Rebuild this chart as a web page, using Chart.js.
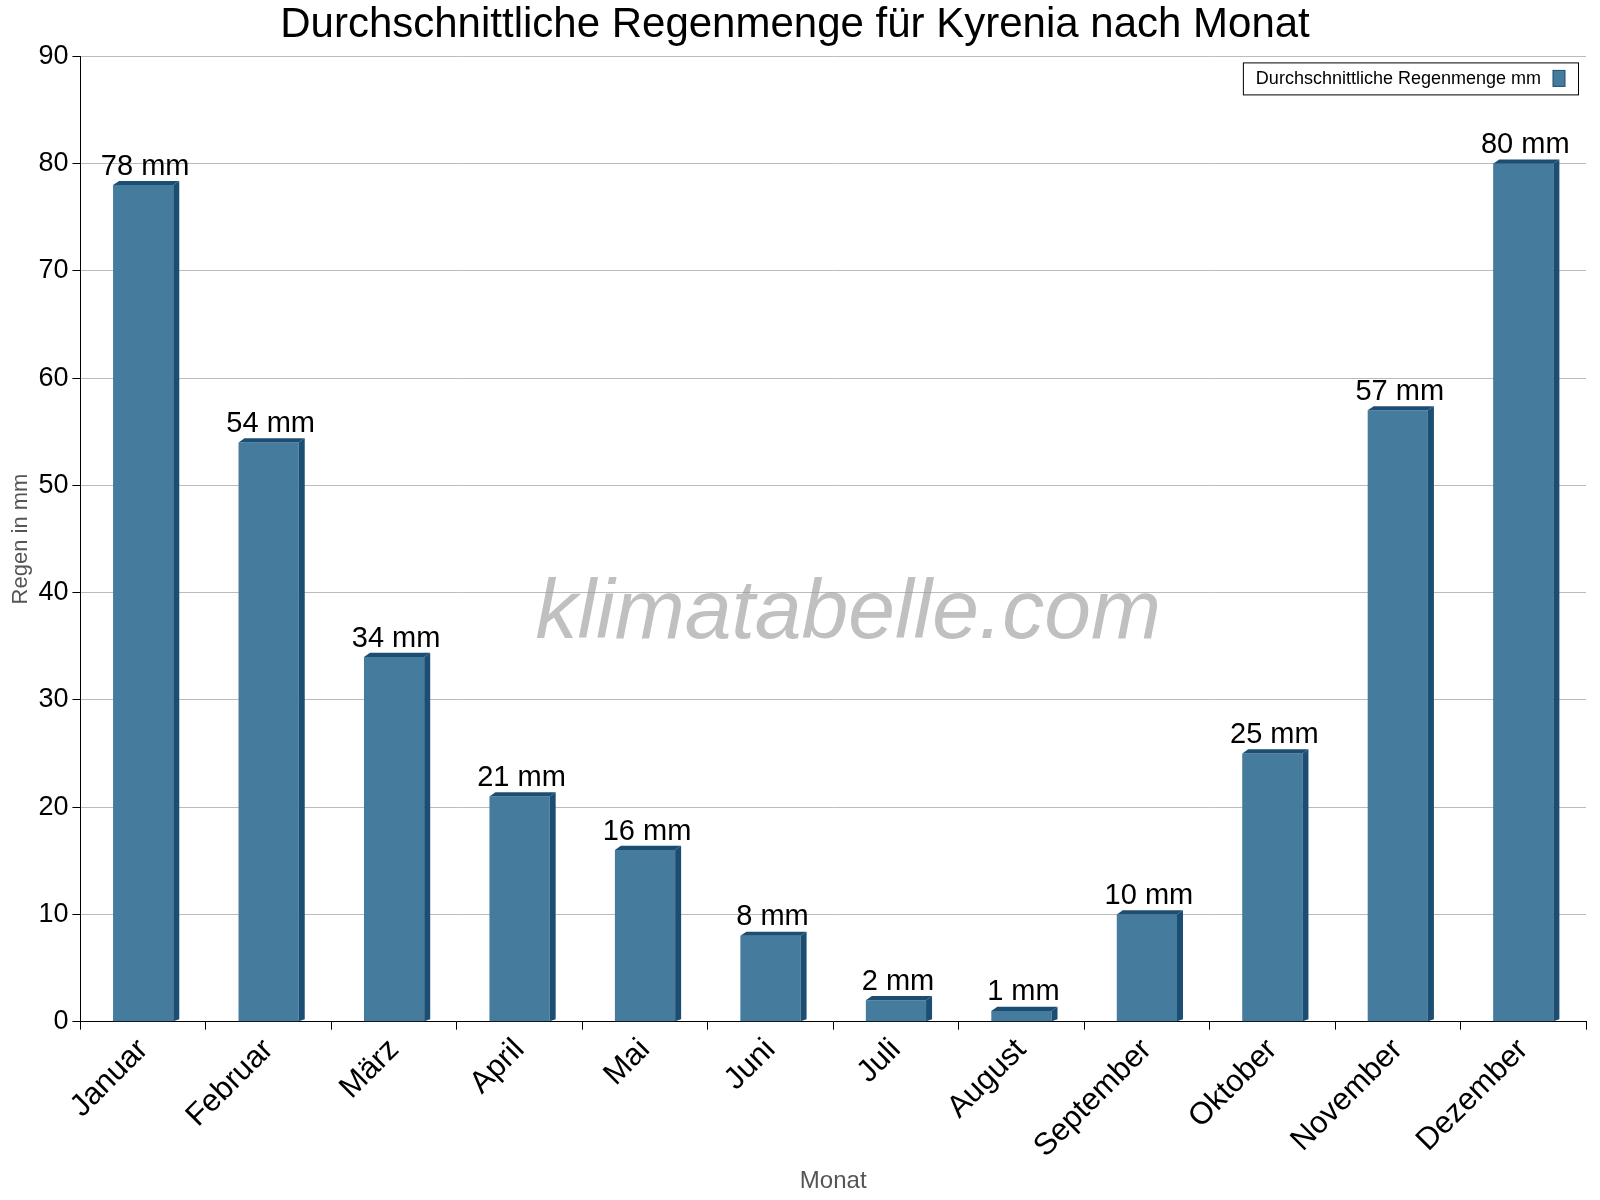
<!DOCTYPE html>
<html><head><meta charset="utf-8">
<script src="https://cdn.jsdelivr.net/npm/chart.js@4/dist/chart.umd.min.js"></script>
<style>html,body{margin:0;padding:0;background:#fff}#w{width:1600px;height:1200px}</style>
</head><body><div id="w"><canvas id="c"></canvas></div>
<script>
const months = ["Januar","Februar","März","April","Mai","Juni","Juli","August","September","Oktober","November","Dezember"];
const rain = [78,54,34,21,16,8,2,1,10,25,57,80];
const yTicks = [0,10,20,30,40,50,60,70,80,90];
const seriesName = "Durchschnittliche Regenmenge mm";
const FONT = "'Liberation Sans', Arial, sans-serif";

const deco = {
  id:'deco',
  beforeDatasetsDraw(ch){
    const c=ch.ctx, a=ch.chartArea;
    c.save();
    c.font="italic 300 84px "+FONT;
    c.fillStyle="rgba(150,150,150,0.6)";
    c.textAlign="center";c.textBaseline="middle";
    c.fillText("klimatabelle.com",(a.left+a.right)/2+15,a.top+(a.bottom-a.top)*0.578);
    c.restore();
  },
  afterDatasetsDraw(ch){
    const c=ch.ctx, meta=ch.getDatasetMeta(0), d=6;
    c.save();
    meta.data.forEach((b,i)=>{
      const l=b.x-b.width/2, r=b.x+b.width/2, t=b.y, bot=b.base;
      c.fillStyle="#1b4e72";
      c.beginPath();c.moveTo(r,bot);c.lineTo(r,t);c.lineTo(r+d,t-d*0.7);c.lineTo(r+d,bot-2);c.closePath();c.fill();
      c.beginPath();c.moveTo(l,t);c.lineTo(l+d,t-d*0.7);c.lineTo(r+d,t-d*0.7);c.lineTo(r,t);c.closePath();c.fill();
      c.fillStyle="#000";c.font="29px "+FONT;c.textAlign="center";c.textBaseline="bottom";
      c.fillText(rain[i]+" mm",b.x+2,t-4);
    });
    // legend
    const a=ch.chartArea;
    c.font="18px "+FONT;
    const tw=c.measureText(seriesName).width;
    const w=tw+50,h=32,x=a.right-8-w,y=a.top+6;
    c.fillStyle="#fff";c.fillRect(x,y,w,h);
    c.strokeStyle="#000";c.lineWidth=1;c.strokeRect(x+0.5,y+0.5,w,h);
    c.fillStyle="#000";c.textAlign="left";c.textBaseline="middle";
    c.fillText(seriesName,x+13,y+h/2+1);
    c.fillStyle="#457b9d";c.fillRect(x+w-25,y+8,12,16);
    c.strokeStyle="#1b4e72";c.strokeRect(x+w-25,y+8,12,16);
    c.restore();
  }
};

new Chart(document.getElementById('c'),{
  type:'bar',
  data:{labels:months,datasets:[{label:seriesName,data:rain,backgroundColor:"#457b9d",barPercentage:0.48,categoryPercentage:1}]},
  options:{
    responsive:true,maintainAspectRatio:false,animation:false,
    layout:{padding:{top:0,right:14,left:4,bottom:0}},
    plugins:{legend:{display:false},tooltip:{enabled:false},
      title:{display:true,text:"Durchschnittliche Regenmenge für Kyrenia nach Monat",color:"#000",font:{family:FONT,size:42,weight:'normal'},padding:{top:0,bottom:6}}},
    scales:{
      x:{grid:{display:true,offset:true,drawOnChartArea:false,color:"#000",tickLength:8},border:{color:"#000"},
        ticks:{color:"#000",font:{family:FONT,size:31},maxRotation:45,minRotation:45,padding:2},
        title:{display:true,text:"Monat",color:"#555",font:{family:FONT,size:24},padding:{top:0}}},
      y:{min:0,max:90,afterBuildTicks(s){s.ticks=yTicks.map(v=>({value:v}));},
        grid:{color:"#bbb",tickLength:8,tickColor:"#000"},border:{color:"#000",dash:[]},
        ticks:{color:"#000",font:{family:FONT,size:27},padding:4},
        title:{display:true,text:"Regen in mm",color:"#555",font:{family:FONT,size:22},padding:{bottom:0}}}
    }
  },
  plugins:[deco,{id:'dash',beforeDraw(ch){ch.options.scales.y.grid.borderDash=[2,4];}}]
});
</script></body></html>
